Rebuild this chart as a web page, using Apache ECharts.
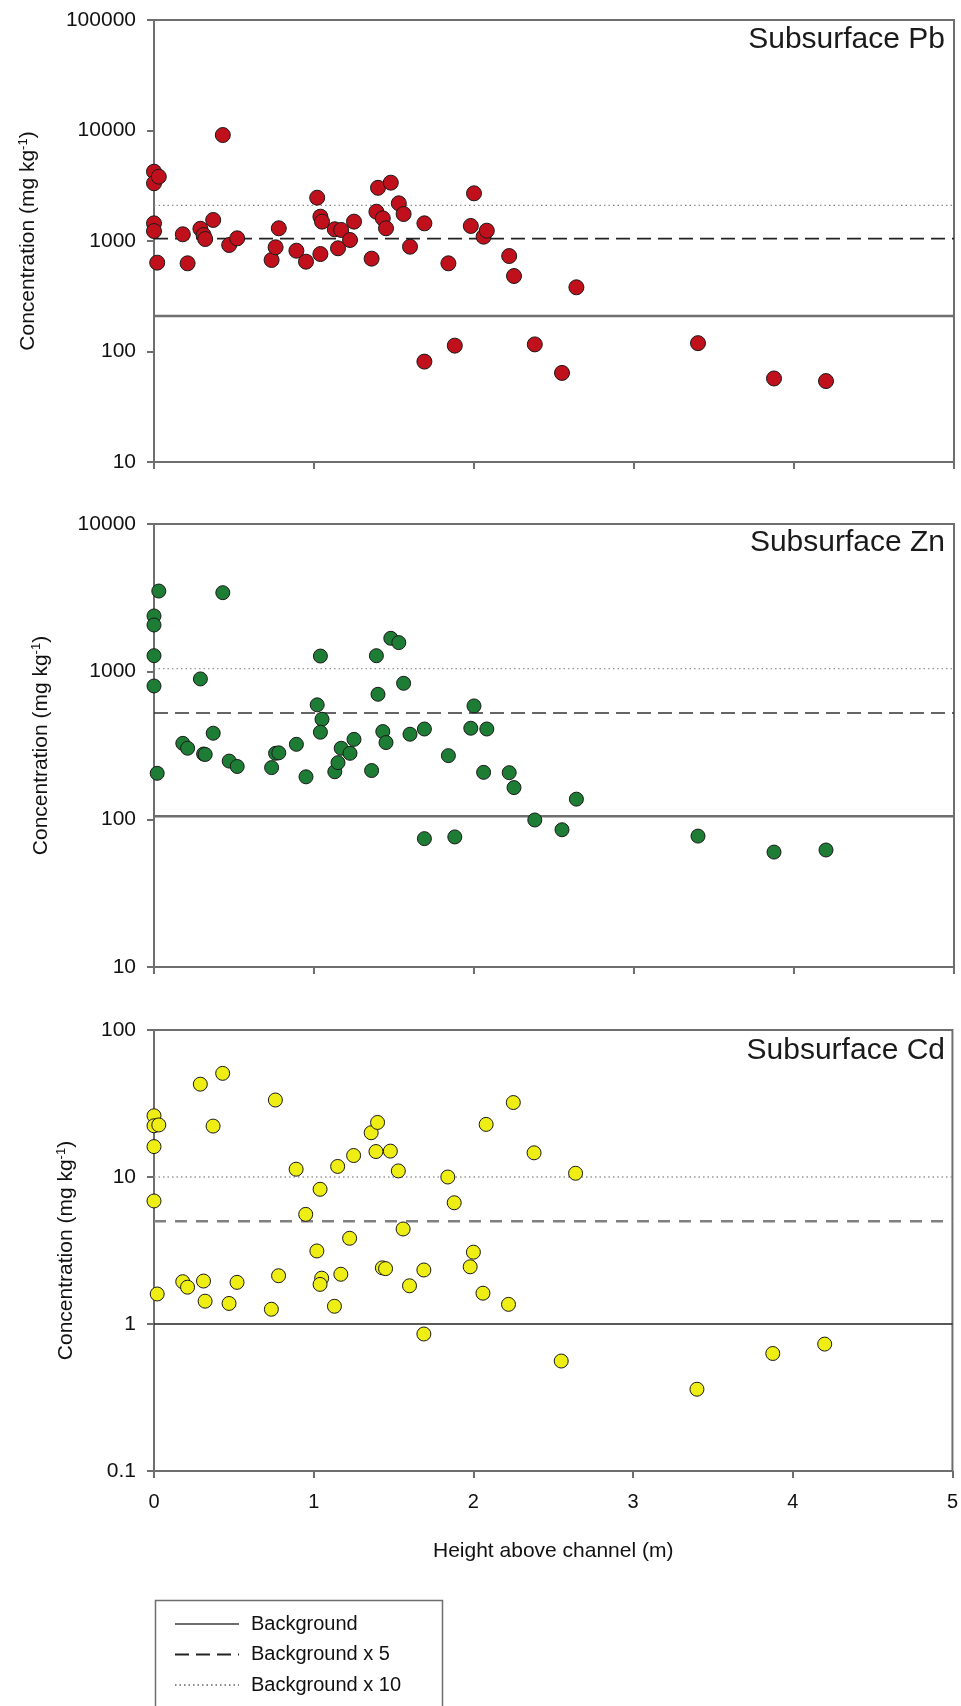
<!DOCTYPE html>
<html>
<head>
<meta charset="utf-8">
<script src="https://cdn.jsdelivr.net/npm/echarts@6/dist/echarts.min.js"></script>
<style>
  html, body { margin: 0; padding: 0; background: #fff; }
  #chart { width: 961px; height: 1706px; }
</style>
</head>
<body>
<div id="chart"></div>
<script>
// sample heights above channel (m), shared by the three panels
var heights = [0, 0, 0, 0, 0.02, 0.03, 0.18, 0.21, 0.29, 0.31, 0.32, 0.37, 0.43, 0.47, 0.52,
  0.735, 0.76, 0.78, 0.89, 0.95, 1.02, 1.04, 1.05, 1.04, 1.13, 1.15, 1.17, 1.225, 1.25,
  1.36, 1.39, 1.40, 1.43, 1.45, 1.48, 1.53, 1.56, 1.60, 1.69, 1.69, 1.84, 1.88, 1.98,
  2.00, 2.06, 2.08, 2.22, 2.25, 2.38, 2.55, 2.64, 3.40, 3.875, 4.20];

// concentrations (mg/kg)
var pbValues = [4240, 3330, 1445, 1230, 637, 3820, 1150, 628, 1290, 1132, 1042, 1550, 9100, 920, 1057,
  673, 877, 1303, 817, 650, 2466, 1660, 1497, 762, 1277, 859, 1259, 1021, 1497,
  692, 1841, 3030, 1603, 1303, 3372, 2193, 1755, 888, 1445, 81, 628, 113, 1368,
  2700, 1094, 1240, 731, 482, 116, 64, 381, 119, 57, 54];
var znValues = [2384, 2070, 1283, 800, 205, 3516, 327, 303, 893, 277, 275, 383, 3427, 248, 228,
  224, 280, 282, 322, 194, 596, 1276, 476, 389, 210, 242, 303, 280, 348,
  214, 1283, 703, 393, 331, 1683, 1573, 834, 377, 409, 74, 270, 76, 414,
  586, 208, 409, 207, 164, 99, 85, 137, 77, 60, 62];
var cdValues = [26.1, 22.3, 16.1, 6.87, 1.6, 22.6, 1.94, 1.78, 42.8, 1.96, 1.43, 22.2, 50.7, 1.38, 1.92,
  1.26, 33.4, 2.13, 11.3, 5.57, 3.14, 8.25, 2.05, 1.86, 1.32, 11.8, 2.18, 3.83, 14.0,
  20.0, 14.9, 23.5, 2.41, 2.38, 15.0, 11.0, 4.43, 1.82, 2.33, 0.855, 10.0, 6.68, 2.45,
  3.08, 1.62, 22.8, 1.36, 32.1, 14.6, 0.56, 10.6, 0.36, 0.63, 0.73];

// background concentrations and multipliers for the reference lines
var backgrounds = [210, 105, 1];
var bgMultiples = [1, 5, 10];
var bgNames = ['Background', 'Background x 5', 'Background x 10'];

var panelTitles = ['Subsurface Pb', 'Subsurface Zn', 'Subsurface Cd'];
var yRanges = [[10, 100000], [10, 10000], [0.1, 100]];
var xRange = [0, 5];
var xTitle = 'Height above channel (m)';

var allValues = [pbValues, znValues, cdValues];
var colors = ['#c0101b', '#1e7d34', '#eeee14'];
var sizes = [15, 14, 14];

var gridBoxes = [
  {top: 20, height: 442},
  {top: 524, height: 443},
  {top: 1030, height: 441}
];
var nameGaps = [114, 101, 76];
var titleTops = [25, 528, 1036];

// line looks per panel: [solid, dashed, dotted]
var bgStyles = [
  [{color: '#6e6e6e', width: 2.5, type: 'solid'}, {color: '#222', width: 1.6, type: [14, 7]}, {color: '#8a8a8a', width: 1.3, type: [1.5, 3]}],
  [{color: '#6e6e6e', width: 2.5, type: 'solid'}, {color: '#333', width: 1.6, type: [14, 7]}, {color: '#999', width: 1.3, type: [1.5, 3]}],
  [{color: '#222', width: 1.6, type: 'solid'}, {color: '#808080', width: 2.6, type: [12, 9]}, {color: '#999', width: 1.3, type: [1.5, 3]}]
];

var axisColor = '#6e6e6e';
var font = 'Liberation Sans, Arial, sans-serif';

var grids = [], xAxes = [], yAxes = [], series = [], graphics = [];

for (var p = 0; p < 3; p++) {
  grids.push({
    left: 154, width: 800, top: gridBoxes[p].top, height: gridBoxes[p].height,
    show: true, borderColor: axisColor, borderWidth: 2, backgroundColor: 'transparent'
  });
  xAxes.push({
    gridIndex: p, type: 'value', min: xRange[0], max: xRange[1], interval: 1,
    name: p === 2 ? xTitle : '', nameLocation: 'middle', nameGap: 70,
    nameTextStyle: {fontFamily: font, fontSize: 21, color: '#111'},
    axisLine: {show: true, lineStyle: {color: axisColor, width: 2}},
    axisTick: {show: true, length: 7, lineStyle: {color: axisColor, width: 2}},
    axisLabel: {show: p === 2, fontFamily: font, fontSize: 20, color: '#111', margin: 21},
    splitLine: {show: false}
  });
  yAxes.push({
    gridIndex: p, type: 'log', logBase: 10, min: yRanges[p][0], max: yRanges[p][1],
    name: 'Concentration (mg kg{sup|-1})', nameLocation: 'middle', nameGap: nameGaps[p],
    nameTextStyle: {fontFamily: font, fontSize: 21, color: '#111',
      rich: {sup: {fontFamily: font, fontSize: 13, color: '#111', verticalAlign: 'top', padding: [0, 0, 10, 0]}}},
    axisLine: {show: true, lineStyle: {color: axisColor, width: 2}},
    axisTick: {show: true, length: 7, lineStyle: {color: axisColor, width: 2}},
    axisLabel: {fontFamily: font, fontSize: 21, color: '#111', margin: 18,
      formatter: function (v) { return String(+(+v).toPrecision(6)); }},
    splitLine: {show: false}
  });

  for (var k = 0; k < 3; k++) {
    var level = backgrounds[p] * bgMultiples[k];
    series.push({
      name: bgNames[k], type: 'line', xAxisIndex: p, yAxisIndex: p,
      data: [[xRange[0], level], [xRange[1], level]],
      symbol: 'none', silent: true, animation: false, z: 1,
      lineStyle: bgStyles[p][k]
    });
  }

  var pts = [];
  for (var i = 0; i < heights.length; i++) pts.push([heights[i], allValues[p][i]]);
  series.push({
    name: panelTitles[p], type: 'scatter', xAxisIndex: p, yAxisIndex: p,
    data: pts, symbol: 'circle', symbolSize: sizes[p], z: 3, animation: false,
    itemStyle: {color: colors[p], borderColor: '#1a1a1a', borderWidth: 1, opacity: 1}
  });

  graphics.push({
    type: 'text', right: 16, top: titleTops[p],
    style: {text: panelTitles[p], fill: '#1a1a1a', font: '30px ' + font}
  });
}

// legend frame (runs off the bottom of the page, as in the original)
graphics.push({
  type: 'rect', left: 153, top: 1598, silent: true,
  shape: {width: 287, height: 140},
  style: {fill: 'none', stroke: '#6e6e6e', lineWidth: 1.5}
});

var chart = echarts.init(document.getElementById('chart'), null, {renderer: 'canvas'});
chart.setOption({
  backgroundColor: '#fff',
  animation: false,
  grid: grids,
  xAxis: xAxes,
  yAxis: yAxes,
  series: series,
  graphic: graphics,
  legend: {
    data: bgNames, orient: 'vertical', left: 174, top: 1614, height: 90,
    padding: 0, itemWidth: 64, itemHeight: 20, itemGap: 10.5,
    selectedMode: false,
    itemStyle: {opacity: 0},
    textStyle: {fontFamily: font, fontSize: 20, color: '#111', lineHeight: 20, padding: [0, 0, 0, 7]}
  }
});
</script>
</body>
</html>
